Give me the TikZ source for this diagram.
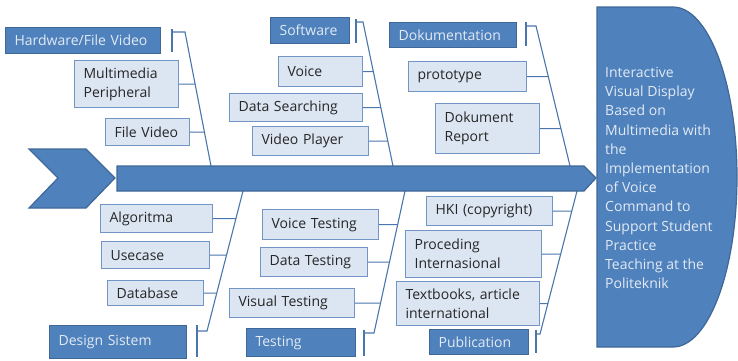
\documentclass[tikz,border=0pt]{standalone}
\usepackage{fontspec}
\setmainfont{Open Sans}
\usepackage{xcolor}
\usepackage{tikz}
\definecolor{boneblue}{HTML}{4A76AE}
\definecolor{darkfill}{HTML}{4F81BD}
\definecolor{darkline}{HTML}{3F6797}
\definecolor{lightfill}{HTML}{DCE6F2}
\definecolor{lightline}{HTML}{7395C6}
\definecolor{paletext}{HTML}{E2EAF4}
\tikzstyle{cause}=[anchor=north west, fill=darkfill, draw=darkline, line width=1.2pt, text=paletext, align=left, inner xsep=9pt, inner ysep=0pt, font=\fontsize{14}{19}\selectfont]
\tikzstyle{item}=[anchor=north west, fill=lightfill, draw=lightline, line width=1.2pt, text=black!85, align=left, inner xsep=9pt, inner ysep=0pt, font=\fontsize{14}{19}\selectfont]
\tikzstyle{bone}=[-, draw=boneblue, line width=1.1pt]
\tikzstyle{body}=[fill=darkfill, draw=darkline, line width=1.2pt]
\pgfdeclarelayer{nodelayer}
\pgfdeclarelayer{edgelayer}
\pgfsetlayers{edgelayer,nodelayer,main}

\begin{document}
\begin{tikzpicture}[x=1pt, y=-1pt]
	\useasboundingbox (0,0) rectangle (738,360);
	\begin{pgfonlayer}{nodelayer}
		% categories
		\node [style=cause, text width=137pt, minimum height=26pt] (hw) at (5,27) {Hardware/File Video};
		\node [style=cause, text width=61pt, minimum height=26pt] (sw) at (270,17) {Software};
		\node [style=cause, text width=109pt, minimum height=25pt] (dok) at (389,22) {Dokumentation};
		\node [style=cause, text width=119pt, minimum height=33pt] (ds) at (49,325) {Design Sistem};
		\node [style=cause, text width=91pt, minimum height=28pt] (test) at (246,328) {Testing};
		\node [style=cause, text width=81pt, minimum height=25pt] (pub) at (429,329) {Publication};
		% items, top
		\node [style=item, text width=86pt, minimum height=47pt] (mmp) at (74,60) {Multimedia\\Peripheral};
		\node [style=item, text width=66pt, minimum height=27pt] (fv) at (105,118) {File Video};
		\node [style=item, text width=66pt, minimum height=30pt] (voice) at (278,56) {Voice};
		\node [style=item, text width=115pt, minimum height=28pt] (dsearch) at (229,93) {Data Searching};
		\node [style=item, text width=98pt, minimum height=29pt] (vplayer) at (252,126) {Video Player};
		\node [style=item, text width=100pt, minimum height=30pt] (proto) at (408,61) {prototype};
		\node [style=item, text width=86pt, minimum height=50pt] (dokrep) at (435,103) {Dokument\\Report};
		% items, bottom
		\node [style=item, text width=94pt, minimum height=28pt] (algo) at (100,204) {Algoritma};
		\node [style=item, text width=90pt, minimum height=27pt] (usecase) at (101,241) {Usecase};
		\node [style=item, text width=78pt, minimum height=25pt] (dbase) at (107,280) {Database};
		\node [style=item, text width=98pt, minimum height=30pt] (vtest) at (262,209) {Voice Testing};
		\node [style=item, text width=89pt, minimum height=29pt] (dtest) at (260,247) {Data Testing};
		\node [style=item, text width=107pt, minimum height=29pt] (vistest) at (229,288) {Visual Testing};
		\node [style=item, text width=108pt, minimum height=29pt] (hki) at (426,196) {HKI (copyright)};
		\node [style=item, text width=118pt, minimum height=47pt] (proc) at (405,230) {Proceding\\Internasional};
		\node [style=item, text width=125pt, minimum height=44pt] (textb) at (396,281) {Textbooks, article\\international};
	\end{pgfonlayer}
	% spine, tail and head
	\draw [style=body] (29,149) -- (86,149) -- (115,178) -- (86,208) -- (29,208) -- (58,178) -- cycle;
	\draw [style=body] (117,166) -- (584,166) -- (596,178) -- (584,191) -- (117,191) -- cycle;
	\draw [style=body] (597,7) -- (673,7) arc[start angle=-90, end angle=90, x radius=64, y radius=170] -- (597,347) -- cycle;
	\node [anchor=west, text=paletext, align=left, inner xsep=8pt, font=\fontsize{14}{19.2}\selectfont] (effect) at (597,178)
		{Interactive\\Visual Display\\Based on\\Multimedia with\\the\\Implementation\\of Voice\\Command to\\Support Student\\Practice\\Teaching at the\\Politeknik};
	\begin{pgfonlayer}{edgelayer}
		% top bones
		\coordinate (hw-b1) at (172,29);
		\coordinate (hw-b2) at (172,52);
		\coordinate (hw-knee) at (172,32);
		\coordinate (hw-top) at (185,32);
		\coordinate (hw-foot) at (211,166);
		\coordinate (sw-b1) at (356,19);
		\coordinate (sw-b2) at (356,43);
		\coordinate (sw-knee) at (356,22);
		\coordinate (sw-top) at (363,22);
		\coordinate (sw-foot) at (393,166);
		\coordinate (dok-b1) at (526,22);
		\coordinate (dok-b2) at (526,46);
		\coordinate (dok-knee) at (526,26);
		\coordinate (dok-top) at (536,26);
		\coordinate (dok-foot) at (570,166);
		\draw [style=bone] (hw-b1) -- (hw-b2);
		\draw [style=bone] (hw-knee) -- (hw-top) -- (hw-foot);
		\draw [style=bone] (sw-b1) -- (sw-b2);
		\draw [style=bone] (sw-knee) -- (sw-top) -- (sw-foot);
		\draw [style=bone] (dok-b1) -- (dok-b2);
		\draw [style=bone] (dok-knee) -- (dok-top) -- (dok-foot);
		% bottom bones
		\coordinate (ds-foot) at (243,191);
		\coordinate (ds-end) at (207,331);
		\coordinate (ds-knee) at (197,331);
		\coordinate (ds-b1) at (197,325);
		\coordinate (ds-b2) at (197,357);
		\coordinate (test-foot) at (405,191);
		\coordinate (test-end) at (374,333);
		\coordinate (test-knee) at (364,333);
		\coordinate (test-b1) at (364,330);
		\coordinate (test-b2) at (364,356);
		\coordinate (pub-foot) at (577,191);
		\coordinate (pub-end) at (540,334);
		\coordinate (pub-knee) at (536,334);
		\coordinate (pub-b1) at (536,330);
		\coordinate (pub-b2) at (536,353);
		\draw [style=bone] (ds-foot) -- (ds-end) -- (ds-knee);
		\draw [style=bone] (ds-b1) -- (ds-b2);
		\draw [style=bone] (test-foot) -- (test-end) -- (test-knee);
		\draw [style=bone] (test-b1) -- (test-b2);
		\draw [style=bone] (pub-foot) -- (pub-end) -- (pub-knee);
		\draw [style=bone] (pub-b1) -- (pub-b2);
		% ties
		\draw [style=bone] (mmp.east) -- (intersection cs:first line={(mmp.west)--(mmp.east)}, second line={(hw-top)--(hw-foot)});
		\draw [style=bone] (fv.east) -- (intersection cs:first line={(fv.west)--(fv.east)}, second line={(hw-top)--(hw-foot)});
		\draw [style=bone] (voice.east) -- (intersection cs:first line={(voice.west)--(voice.east)}, second line={(sw-top)--(sw-foot)});
		\draw [style=bone] (dsearch.east) -- (intersection cs:first line={(dsearch.west)--(dsearch.east)}, second line={(sw-top)--(sw-foot)});
		\draw [style=bone] (vplayer.east) -- (intersection cs:first line={(vplayer.west)--(vplayer.east)}, second line={(sw-top)--(sw-foot)});
		\draw [style=bone] (proto.east) -- (intersection cs:first line={(proto.west)--(proto.east)}, second line={(dok-top)--(dok-foot)});
		\draw [style=bone] (dokrep.east) -- (intersection cs:first line={(dokrep.west)--(dokrep.east)}, second line={(dok-top)--(dok-foot)});
		\draw [style=bone] (algo.east) -- (intersection cs:first line={(algo.west)--(algo.east)}, second line={(ds-foot)--(ds-end)});
		\draw [style=bone] (usecase.east) -- (intersection cs:first line={(usecase.west)--(usecase.east)}, second line={(ds-foot)--(ds-end)});
		\draw [style=bone] (dbase.east) -- (intersection cs:first line={(dbase.west)--(dbase.east)}, second line={(ds-foot)--(ds-end)});
		\draw [style=bone] (vtest.east) -- (intersection cs:first line={(vtest.west)--(vtest.east)}, second line={(test-foot)--(test-end)});
		\draw [style=bone] (dtest.east) -- (intersection cs:first line={(dtest.west)--(dtest.east)}, second line={(test-foot)--(test-end)});
		\draw [style=bone] (vistest.east) -- (intersection cs:first line={(vistest.west)--(vistest.east)}, second line={(test-foot)--(test-end)});
		\draw [style=bone] (hki.east) -- (intersection cs:first line={(hki.west)--(hki.east)}, second line={(pub-foot)--(pub-end)});
		\draw [style=bone] (proc.east) -- (intersection cs:first line={(proc.west)--(proc.east)}, second line={(pub-foot)--(pub-end)});
		\draw [style=bone] (textb.east) -- (intersection cs:first line={(textb.west)--(textb.east)}, second line={(pub-foot)--(pub-end)});
	\end{pgfonlayer}
\end{tikzpicture}
\end{document}
